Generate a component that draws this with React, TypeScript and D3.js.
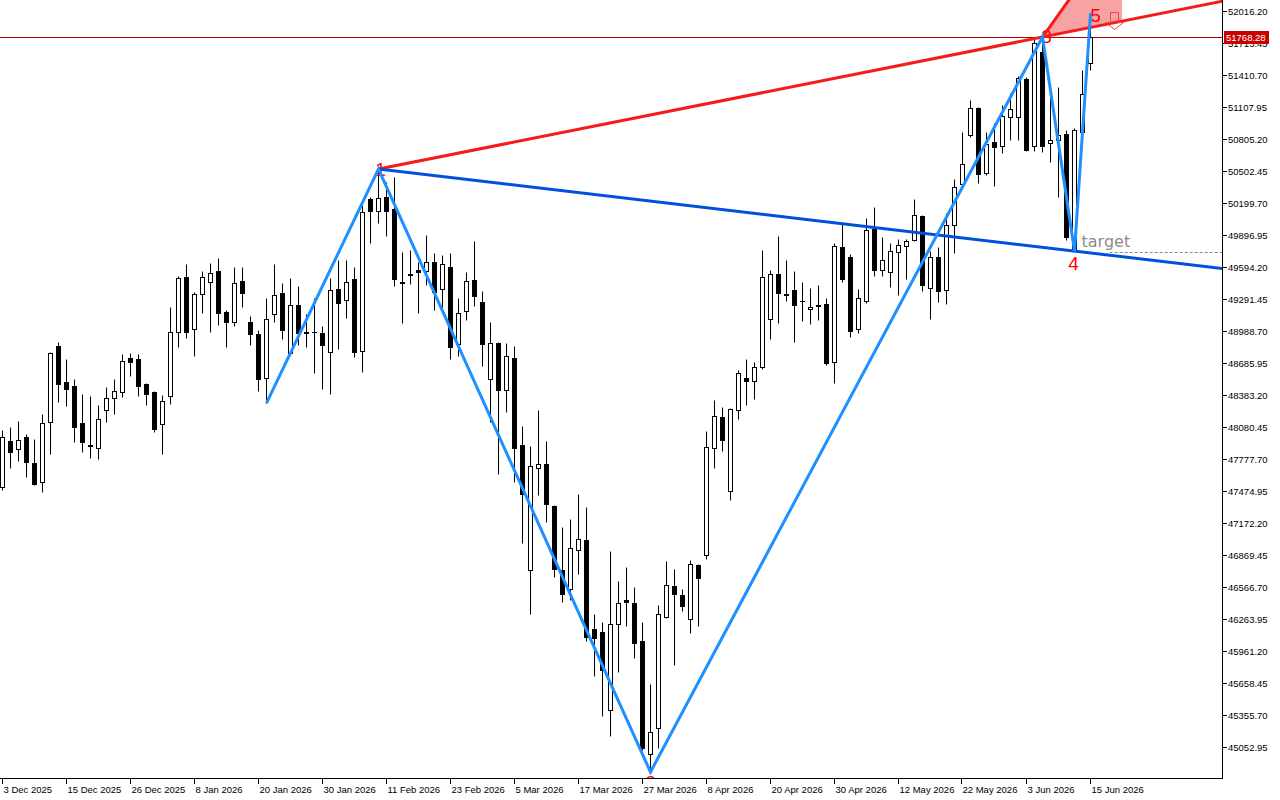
import React from 'react';
import * as d3 from 'd3';

// ---------- data ----------
// daily candles [open, high, low, close], 3 Dec 2025 .. 15 Jun 2026
const bars: [number, number, number, number][] = [
  [47512, 48052, 47484, 47986], [47948, 48080, 47692, 47844], [47872, 48137, 47758, 47957], [47986, 48014, 47607, 47749],
  [47740, 47967, 47531, 47541], [47560, 48203, 47465, 48118], [48128, 48790, 47825, 48780], [48847, 48884, 48317, 48487],
  [48506, 48724, 48279, 48440], [48468, 48534, 47938, 48080], [48118, 48392, 47844, 47938], [47910, 48373, 47787, 47905],
  [47882, 48288, 47777, 48156], [48241, 48459, 48128, 48355], [48355, 48534, 48203, 48421], [48411, 48771, 48364, 48705],
  [48733, 48780, 48563, 48695], [48724, 48771, 48373, 48468], [48487, 48496, 48288, 48392], [48411, 48421, 48033, 48061],
  [48108, 48383, 47825, 48326], [48373, 49216, 48298, 48979], [48979, 49509, 48837, 49490], [49499, 49622, 48922, 48979],
  [49007, 49357, 48752, 49339], [49339, 49556, 49159, 49499], [49452, 49632, 48979, 49537], [49556, 49679, 49045, 49159],
  [49168, 49187, 48837, 49074], [49074, 49594, 49036, 49443], [49462, 49594, 49216, 49348], [49074, 49130, 48856, 48960],
  [48960, 48998, 48421, 48534], [48544, 49301, 48307, 49102], [49149, 49622, 49074, 49329], [49348, 49443, 48913, 48998],
  [48780, 49490, 48761, 49234], [49234, 49414, 48856, 48970], [48979, 49149, 48837, 48974], [48975, 49301, 48591, 48981],
  [48970, 49036, 48440, 48856], [48790, 49490, 48392, 49376], [49386, 49660, 48818, 49253], [49282, 49660, 49111, 49452],
  [49480, 49594, 48742, 48790], [48799, 50181, 48600, 50114], [50237, 50256, 49821, 50124], [50124, 50521, 50010, 50247],
  [50256, 50398, 49887, 50124], [50143, 50445, 49414, 49480], [49452, 49736, 49064, 49443], [49528, 49755, 49433, 49522],
  [49566, 49641, 49159, 49547], [49556, 49897, 49424, 49641], [49641, 49726, 49187, 49357], [49386, 49707, 49216, 49622],
  [49594, 49726, 48724, 48837], [48865, 49301, 48752, 49159], [49178, 49547, 49092, 49462], [49471, 49840, 49225, 49320],
  [49263, 49367, 48657, 48865], [48534, 49074, 48128, 48875], [48875, 48884, 47636, 48430], [48430, 48875, 48222, 48752],
  [48733, 48847, 47560, 47882], [47910, 48090, 46983, 47446], [46727, 47900, 46311, 47711], [47692, 48241, 47437, 47730],
  [47730, 47948, 47181, 47352], [47333, 47342, 46661, 46737], [46727, 47134, 46425, 46500], [46548, 47210, 46443, 46935],
  [46916, 47446, 46689, 47021], [47011, 47323, 46056, 46093], [46169, 46311, 45724, 46084], [46141, 46235, 45346, 45781],
  [45403, 46907, 45157, 46216], [46216, 46623, 45762, 46415], [46443, 46756, 46197, 46425], [46415, 46566, 45895, 46037],
  [46056, 46235, 45024, 45043], [44986, 45649, 44816, 45195], [45232, 46396, 45043, 46311], [46283, 46812, 46273, 46585],
  [46576, 46737, 45828, 46500], [46491, 46548, 46339, 46387], [46264, 46822, 46131, 46784], [46775, 46784, 46197, 46652],
  [46869, 48042, 46831, 47891], [47882, 48336, 47692, 48184], [48175, 48269, 47853, 47957], [47475, 48260, 47390, 48250],
  [48241, 48619, 48156, 48591], [48544, 48724, 48288, 48515], [48515, 48695, 48345, 48648], [48648, 49755, 48629, 49499],
  [49102, 49566, 48913, 49528], [49528, 49887, 49064, 49348], [49339, 49660, 49272, 49334], [49376, 49556, 48884, 49234],
  [49272, 49452, 49083, 49268], [49197, 49395, 49055, 49216], [49234, 49424, 49092, 49225], [49244, 49301, 48667, 48686],
  [48695, 49821, 48496, 49793], [49783, 50020, 49452, 49480], [49689, 49717, 48932, 48988], [49007, 49386, 48970, 49301],
  [49272, 50058, 49253, 49944], [49953, 50162, 49509, 49566], [49566, 49878, 49509, 49660], [49547, 49821, 49405, 49745],
  [49736, 49859, 49329, 49802], [49793, 49859, 49480, 49840], [49849, 50237, 49840, 50086], [50076, 50086, 49367, 49424],
  [49395, 49745, 49102, 49689], [49689, 49783, 49263, 49367], [49376, 50105, 49244, 49991], [49991, 50427, 49726, 50351],
  [50379, 50871, 50360, 50568], [50843, 51174, 50824, 51098], [51098, 51108, 50389, 50474], [50483, 50871, 50464, 50758],
  [50777, 50956, 50360, 50729], [50739, 51127, 50673, 51023], [51013, 51240, 50796, 51089], [51013, 51401, 50796, 51382],
  [51373, 51392, 50691, 50701], [50739, 51751, 50691, 51713], [51628, 51770, 50682, 50739], [50767, 51297, 50587, 50796],
  [50796, 51297, 50256, 50843], [50852, 50890, 49849, 49878], [49764, 50909, 49745, 50890], [50871, 51458, 50862, 51231],
  [51524, 51997, 51458, 51768.28],
];

const dateLabels = [
  '3 Dec 2025', '15 Dec 2025', '26 Dec 2025', '8 Jan 2026', '20 Jan 2026', '30 Jan 2026', '11 Feb 2026',
  '23 Feb 2026', '5 Mar 2026', '17 Mar 2026', '27 Mar 2026', '8 Apr 2026', '20 Apr 2026', '30 Apr 2026',
  '12 May 2026', '22 May 2026', '3 Jun 2026', '15 Jun 2026',
];
const dateLabelEvery = 8;

const priceTicks = [
  52016.2, 51713.45, 51410.7, 51107.95, 50805.2, 50502.45, 50199.7, 49896.95, 49594.2, 49291.45, 48988.7, 48685.95,
  48383.2, 48080.45, 47777.7, 47474.95, 47172.2, 46869.45, 46566.7, 46263.95, 45961.2, 45658.45, 45355.7, 45052.95,
];

const lastPrice = 51768.28;

// zigzag pivots [bar index, price]
const zigzag: [number, number][] = [
  [33, 48307], [47, 50521], [81, 44816], [130, 51770], [134, 49745], [136, 51997],
];
// wave labels: pivot index into zigzag, text, offsets
const waveLabels = [
  { pivot: 1, text: '1', dx: 2, dy: 7 },
  { pivot: 2, text: '2', dx: 0, dy: 17 },
  { pivot: 3, text: '3', dx: 4, dy: 6 },
  { pivot: 4, text: '4', dx: -1, dy: 19 },
  { pivot: 5, text: '5', dx: 5, dy: 9 },
];

const targetPrice = 49735;
const targetStartIndex = 138.4;
const zoneSteepPoint: [number, number] = [133.3, 52120.3];
const zoneRightIndex = 139.94;
const sellArrow: [number, number] = [138.9, 52007];

// ---------- layout ----------
const W = 1280;
const H = 800;
const PR = 1222; // plot right edge
const PB = 778; // plot bottom edge

const xs = d3.scaleLinear().domain([0, 136]).range([2.5, 1090.5]);
const ys = d3.scaleLinear().domain([45052.95, 52016.2]).range([747, 11]);

const AXIS_FONT = "'Liberation Sans', Arial, sans-serif";

function extend(a: [number, number], b: [number, number], xEnd: number): [number, number] {
  const slope = (b[1] - a[1]) / (b[0] - a[0]);
  return [xEnd, a[1] + slope * (xEnd - a[0])];
}

export default function App() {
  const pv = zigzag.map(([i, p]) => [xs(i), ys(p)] as [number, number]);
  const P1 = pv[1];
  const P3 = pv[3];
  const P4 = pv[4];

  const redEnd = extend(P1, P3, PR + 5);
  const blueEnd = extend(P1, P4, PR + 5);

  const zs: [number, number] = [xs(zoneSteepPoint[0]), ys(zoneSteepPoint[1])];
  const zr = xs(zoneRightIndex);
  const zrBottom = extend(P1, P3, zr);
  const steepEnd = extend(P3, zs, zs[0] + 10);
  const zonePoly = [P3, zs, [zr, zs[1]], zrBottom].map((p) => p.join(',')).join(' ');

  const zigPath = d3.line()(pv) || '';

  const lastY = Math.round(ys(lastPrice)) + 0.5;
  const targetY = Math.round(ys(targetPrice)) + 0.5;

  const ax = Math.round(xs(sellArrow[0])) + 0.5;
  const ay = Math.round(ys(sellArrow[1])) + 0.5;
  const arrowPath = `M${ax - 4},${ay} h8 v10 h5 l-9,7 l-9,-7 h5 z`;

  return (
    <svg
      width={W}
      height={H}
      viewBox={`0 0 ${W} ${H}`}
      style={{ position: 'fixed', left: 0, top: 0, display: 'block', background: '#fff' }}
    >
      <defs>
        <clipPath id="plot">
          <rect x={0} y={0} width={PR} height={PB} />
        </clipPath>
      </defs>
      <rect x={0} y={0} width={W} height={H} fill="#fff" />

      <g clipPath="url(#plot)">
        {/* target zone */}
        <polygon points={zonePoly} fill="#f8a3a3" />

        {/* current price line */}
        <line x1={0} x2={PR} y1={lastY} y2={lastY} stroke="#b30000" strokeWidth={1} />

        {/* candles */}
        {bars.map(([o, h, l, c], i) => {
          const cx = xs(i);
          const up = c >= o;
          const top = Math.round(ys(Math.max(o, c))) + 0.5;
          const bot = Math.round(ys(Math.min(o, c))) + 0.5;
          const hy = Math.round(ys(h)) + 0.5;
          const ly = Math.round(ys(l)) + 0.5;
          return (
            <g key={i}>
              <line x1={cx} x2={cx} y1={hy} y2={ly} stroke="#000" strokeWidth={1} />
              {bot - top < 1 ? (
                <line x1={cx - 2.5} x2={cx + 2.5} y1={top} y2={top} stroke="#000" strokeWidth={1} />
              ) : (
                <rect
                  x={cx - 2}
                  y={top}
                  width={4}
                  height={bot - top}
                  fill={up ? '#fff' : '#000'}
                  stroke="#000"
                  strokeWidth={1}
                />
              )}
            </g>
          );
        })}

        {/* wave labels (under the lines) */}
        {waveLabels.map((w) => {
          const [px, py] = pv[w.pivot];
          return (
            <text
              key={w.text}
              x={px + w.dx}
              y={py + w.dy}
              textAnchor="middle"
              fontFamily={AXIS_FONT}
              fontSize={19}
              fill="#ff0000"
            >
              {w.text}
            </text>
          );
        })}

        {/* target level */}
        <line
          x1={xs(targetStartIndex)}
          x2={PR}
          y1={targetY}
          y2={targetY}
          stroke="#8c8c8c"
          strokeWidth={1}
          strokeDasharray="3,2"
        />
        <text x={P4[0] + 7} y={P4[1] - 4} fontFamily="'DejaVu Sans', sans-serif" fontSize={16} fill="#8c8c8c">
          target
        </text>

        {/* trend lines */}
        <line x1={P3[0]} y1={P3[1]} x2={steepEnd[0]} y2={steepEnd[1]} stroke="#f51b1b" strokeWidth={3} />
        <line x1={P1[0]} y1={P1[1]} x2={redEnd[0]} y2={redEnd[1]} stroke="#f51b1b" strokeWidth={3} />
        <line x1={P1[0]} y1={P1[1]} x2={blueEnd[0]} y2={blueEnd[1]} stroke="#0050dc" strokeWidth={3} />

        {/* zigzag */}
        <path d={zigPath} fill="none" stroke="#1e90ff" strokeWidth={3} strokeLinejoin="miter" />

        {/* sell arrow */}
        <path d={arrowPath} fill="none" stroke="#ee4444" strokeWidth={1} />
      </g>

      {/* frame */}
      <line x1={PR + 0.5} x2={PR + 0.5} y1={0} y2={PB + 1} stroke="#000" strokeWidth={1} />
      <line x1={0} x2={PR + 1} y1={PB + 0.5} y2={PB + 0.5} stroke="#000" strokeWidth={1} />

      {/* price axis */}
      {priceTicks.map((v) => {
        const y = Math.round(ys(v)) + 0.5;
        return (
          <g key={v}>
            <line x1={PR} x2={PR + 5} y1={y} y2={y} stroke="#000" strokeWidth={1} />
            <text x={PR + 6} y={y + 3.5} fontFamily={AXIS_FONT} fontSize={9.5} fill="#000">
              {v.toFixed(2)}
            </text>
          </g>
        );
      })}

      {/* last price label */}
      <rect x={PR + 2} y={lastY - 6.5} width={45} height={13} fill="#c80000" />
      <text x={PR + 4} y={lastY + 3.5} fontFamily={AXIS_FONT} fontSize={9.5} fill="#fff">
        {lastPrice.toFixed(2)}
      </text>

      {/* time axis */}
      {dateLabels.map((d, k) => {
        const x = Math.round(xs(k * dateLabelEvery)) - 0.5;
        return (
          <g key={d}>
            <line x1={x} x2={x} y1={PB} y2={PB + 6} stroke="#000" strokeWidth={1} />
            <text x={x + 1} y={PB + 15} fontFamily={AXIS_FONT} fontSize={9.5} fill="#000">
              {d}
            </text>
          </g>
        );
      })}
    </svg>
  );
}
